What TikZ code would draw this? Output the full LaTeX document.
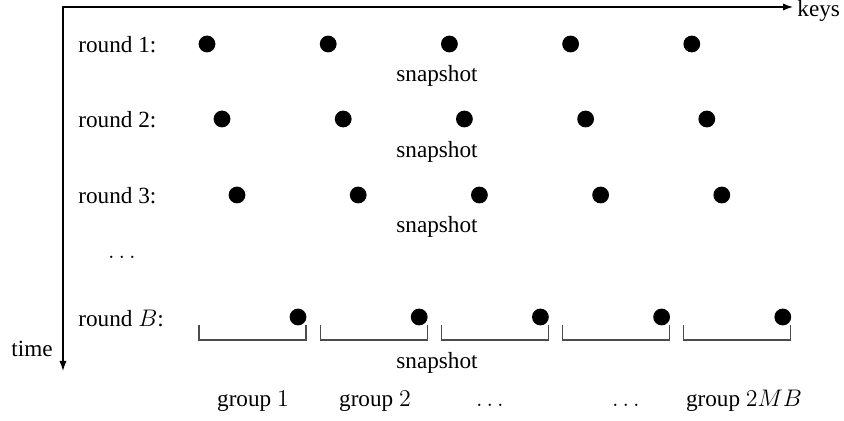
\documentclass[tikz,border=0pt]{standalone}
\usepackage{fontspec}
\setmainfont{Liberation Serif}
\usetikzlibrary{arrows.meta}
\begin{document}
\begin{tikzpicture}[x=0.5pt,y=-0.5pt,
  every node/.style={font=\fontsize{11.6}{14}\selectfont, inner sep=0pt},
  keydot/.style={circle, fill=black, minimum size=8.4pt, inner sep=0pt},
  rowlabel/.style={anchor=west},
  axes/.style={line width=0.6pt, {Latex[length=5pt,width=3.6pt]}-{Latex[length=5pt,width=3.6pt]}},
  bracket/.style={line width=0.6pt, draw=black!70},
  grouplabel/.style={anchor=base}]
\useasboundingbox (0,0) rectangle (844,421);

% axes: time runs down, keys run right
\coordinate (origin) at (63,7);
\coordinate (timeend) at (63,371);
\coordinate (keyend) at (793,7);
\draw[axes] (timeend) -- (origin) -- (keyend);
\node[anchor=west] (keys) at (797,11) {keys};
\node (time) at (32,349) {time};

% rounds 1--3: keys shift right from round to round
\foreach \r/\y/\x in {1/44/207, 2/119/222, 3/195/237}{
  \node[rowlabel] (lab\r) at (78,\y+1) {round \r:};
  \foreach \i in {0,...,4}
    \node[keydot] (d\r-\i) at ({\x+121.2*\i},\y) {};
}
\node (snap1) at (437,76) {snapshot};
\node (snap2) at (437,152) {snapshot};
\node (snap3) at (437,227) {snapshot};
\node (vdots) at (122,257) {$\ldots$};

% round B: each key closes a group
\node[rowlabel] (labB) at (78,318) {round $B$:};
\foreach \i in {0,...,4}{
  \node[keydot] (dB-\i) at ({298+121.2*\i},317) {};
  \coordinate (ga\i) at ({199+121.2*\i},325);
  \coordinate (gb\i) at ({199+121.2*\i},340);
  \coordinate (gc\i) at ({306+121.2*\i},340);
  \coordinate (gd\i) at ({306+121.2*\i},325);
  \draw[bracket] (ga\i) -- (gb\i) -- (gc\i) -- (gd\i);
}
\node (snapB) at (437,363) {snapshot};

% group names
\node[grouplabel] (g1) at (253,406) {group $1$};
\node[grouplabel] (g2) at (375,406) {group $2$};
\node[grouplabel] (g3) at (490,406) {$\ldots$};
\node[grouplabel] (g4) at (626,406) {$\ldots$};
\node[grouplabel] (g5) at (744,406) {group $2MB$};
\end{tikzpicture}
\end{document}
